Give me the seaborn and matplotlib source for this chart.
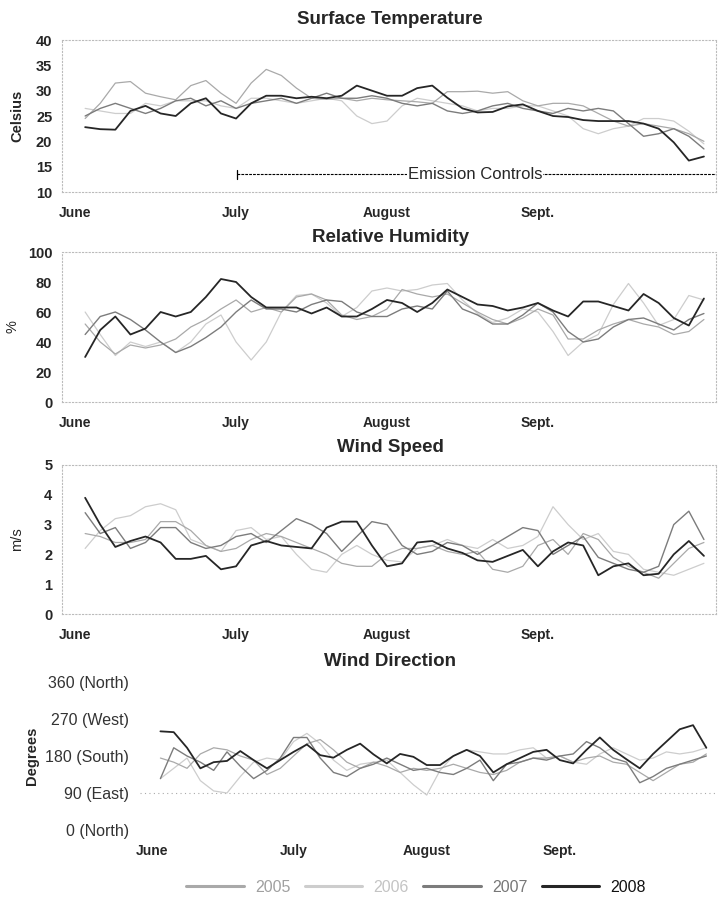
import numpy as np
import pandas as pd
import matplotlib
matplotlib.use("Agg")
import matplotlib.pyplot as plt
import seaborn as sns
from matplotlib.lines import Line2D

# ---------------- data ----------------
days = list(range(2, 126, 3))  # days after June 1
years = ["2005", "2006", "2007", "2008"]
month_labels = ["June", "July", "August", "Sept."]
month_pos = [0, 32, 62, 92]

temp_2005 = [24.5, 27.5, 31.5, 31.8, 29.5, 28.8, 28.2, 31.0, 32.0, 29.5, 27.5, 31.5, 34.2, 33.0, 30.5, 28.5, 28.3, 28.5, 28.0, 28.5, 28.2,
             28.0, 27.8, 27.5, 29.8, 29.8, 29.9, 29.5, 29.8, 28.0, 27.0, 27.5, 27.5, 27.0, 25.5, 24.0, 23.0, 23.5, 23.0, 22.5, 21.5, 20.0]
temp_2006 = [26.5, 26.0, 25.5, 25.5, 27.5, 27.0, 28.0, 28.0, 28.0, 27.0, 26.5, 28.5, 28.5, 28.0, 27.5, 28.0, 28.5, 28.0, 25.0, 23.5, 24.0,
             27.0, 28.5, 28.0, 27.5, 27.0, 26.0, 26.5, 26.5, 27.0, 27.0, 26.0, 25.0, 22.5, 21.5, 22.5, 23.0, 24.5, 24.5, 24.0, 22.0, 19.5]
temp_2007 = [25.0, 26.5, 27.5, 26.5, 25.5, 26.5, 28.0, 28.5, 27.0, 28.0, 26.5, 27.5, 28.0, 28.5, 27.5, 28.5, 29.5, 28.5, 28.5, 29.0, 28.5,
             27.5, 27.0, 27.5, 26.0, 25.5, 26.0, 27.0, 27.5, 26.5, 26.0, 25.5, 26.5, 26.0, 26.5, 26.0, 23.5, 21.0, 21.5, 22.5, 21.0, 18.5]
temp_2008 = [22.8, 22.4, 22.3, 26.0, 27.0, 25.5, 25.0, 27.5, 28.5, 25.5, 24.5, 27.5, 29.0, 29.0, 28.5, 28.8, 28.5, 29.0, 31.0, 30.0, 29.0,
             29.0, 30.5, 31.0, 28.6, 26.5, 25.7, 25.8, 26.9, 27.3, 26.0, 25.0, 24.8, 24.2, 24.0, 24.0, 24.0, 23.5, 22.5, 19.8, 16.2, 17.0]

rh_2005 = [52, 40, 32, 38, 36, 38, 42, 50, 55, 62, 68, 60, 63, 60, 70, 72, 68, 58, 55, 57, 62,
           75, 72, 70, 72, 66, 60, 55, 52, 56, 62, 58, 42, 42, 48, 52, 55, 52, 50, 45, 47, 55]
rh_2006 = [60, 45, 31, 40, 37, 40, 33, 40, 52, 58, 40, 28, 40, 60, 71, 72, 66, 57, 63, 74, 76,
           74, 75, 78, 79, 68, 59, 53, 56, 62, 60, 47, 31, 40, 45, 65, 79, 66, 51, 55, 71, 68]
rh_2007 = [45, 57, 60, 55, 48, 40, 33, 37, 43, 50, 60, 68, 62, 62, 60, 65, 68, 67, 60, 57, 57,
           62, 64, 62, 74, 62, 58, 52, 52, 58, 66, 60, 47, 40, 42, 50, 55, 56, 52, 48, 55, 59]
rh_2008 = [30, 48, 57, 45, 49, 60, 57, 60, 70, 82, 80, 70, 63, 63, 63, 59, 63, 57, 57, 62, 68,
           66, 60, 66, 75, 70, 65, 64, 61, 63, 66, 61, 57, 67, 67, 64, 61, 72, 66, 56, 51, 69]

ws_2005 = [2.7, 2.6, 2.4, 2.4, 2.5, 3.1, 3.1, 2.8, 2.3, 2.1, 2.2, 2.5, 2.7, 2.6, 2.4, 2.2, 2.0, 1.7, 1.6, 1.6, 2.0,
           2.2, 2.2, 2.3, 2.1, 2.0, 2.1, 1.5, 1.4, 1.6, 2.3, 2.5, 2.0, 2.7, 2.5, 1.9, 1.6, 1.4, 1.2, 1.7, 2.2, 2.4]
ws_2006 = [2.2, 2.8, 3.2, 3.3, 3.6, 3.7, 3.5, 2.5, 2.3, 2.1, 2.8, 2.9, 2.5, 2.6, 2.0, 1.5, 1.4, 2.0, 2.3, 2.0, 1.8,
           1.75, 2.2, 2.3, 2.5, 2.3, 2.2, 2.5, 2.2, 2.3, 2.6, 3.6, 3.0, 2.5, 2.7, 2.1, 2.0, 1.5, 1.4, 1.3, 1.5, 1.7]
ws_2007 = [3.4, 2.7, 2.9, 2.2, 2.4, 2.9, 2.9, 2.4, 2.2, 2.3, 2.6, 2.7, 2.4, 2.8, 3.2, 3.0, 2.7, 2.1, 2.6, 3.1, 3.0,
           2.3, 2.0, 2.1, 2.4, 2.3, 2.0, 2.3, 2.6, 2.9, 2.8, 2.0, 2.3, 2.6, 1.9, 1.7, 1.5, 1.4, 1.6, 3.0, 3.45, 2.5]
ws_2008 = [3.9, 3.0, 2.25, 2.45, 2.6, 2.4, 1.85, 1.85, 1.95, 1.5, 1.6, 2.3, 2.45, 2.3, 2.25, 2.2, 2.9, 3.1, 3.1, 2.3, 1.6,
           1.7, 2.4, 2.45, 2.2, 2.05, 1.8, 1.75, 1.95, 2.15, 1.6, 2.1, 2.4, 2.3, 1.3, 1.6, 1.7, 1.3, 1.35, 2.0, 2.45, 1.95]

wd_2005 = [175, 165, 150, 185, 200, 195, 180, 170, 135, 150, 180, 210, 220, 195, 165, 150, 165, 155, 140, 150, 145,
           150, 160, 150, 140, 135, 145, 165, 175, 175, 180, 165, 175, 180, 165, 160, 140, 120, 140, 160, 165, 185]
wd_2006 = [125, 150, 175, 120, 95, 90, 130, 165, 175, 170, 215, 235, 210, 170, 145, 160, 165, 170, 140, 110, 85,
           145, 180, 195, 190, 185, 185, 195, 200, 175, 180, 165, 160, 185, 200, 185, 170, 175, 190, 185, 190, 200]
wd_2007 = [125, 200, 180, 165, 145, 190, 155, 125, 145, 175, 225, 225, 175, 140, 130, 150, 160, 175, 160, 145, 150,
           140, 135, 150, 170, 120, 160, 165, 175, 170, 180, 185, 215, 200, 175, 165, 115, 130, 150, 160, 170, 180]
wd_2008 = [240, 238, 200, 150, 165, 168, 192, 170, 150, 170, 190, 208, 182, 176, 195, 210, 184, 162, 185, 178, 158,
           158, 180, 195, 180, 140, 160, 175, 190, 195, 170, 162, 195, 225, 195, 172, 150, 185, 215, 245, 255, 200]

wd_ticks = [0, 90, 180, 270, 360]
wd_ticklabels = ["0 (North)", "90 (East)", "180 (South)", "270 (West)", "360 (North)"]

# ---------------- style ----------------
sns.set_style("white")
plt.rcParams["font.family"] = ["Liberation Sans", "DejaVu Sans"]

colors = {"2005": "#a9a9a9", "2006": "#cdcdcd", "2007": "#7c7c7c", "2008": "#262626"}
widths = {"2005": 0.9, "2006": 0.9, "2007": 1.0, "2008": 1.3}
order = ["2006", "2005", "2007", "2008"]


def long_df(series):
    frames = []
    for y, vals in zip(years, series):
        frames.append(pd.DataFrame({"day": days, "value": vals, "year": y}))
    return pd.concat(frames, ignore_index=True)


fig = plt.figure(figsize=(7.18, 8.98), dpi=100)
W, H = 718.0, 898.0


def add_ax(left, right, top, bottom):
    return fig.add_axes([left / W, 1 - bottom / H, (right - left) / W, (bottom - top) / H])


panels = [
    dict(series=[temp_2005, temp_2006, temp_2007, temp_2008], box=(62, 716, 40, 192), ylim=(10, 40),
         yticks=[10, 15, 20, 25, 30, 35, 40], ylabel="Celsius", title="Surface Temperature", ty=20, ylx=-0.058,
         ylw="bold"),
    dict(series=[rh_2005, rh_2006, rh_2007, rh_2008], box=(62, 716, 252, 402), ylim=(0, 100),
         yticks=[0, 20, 40, 60, 80, 100], ylabel="%", title="Relative Humidity", ty=237, ylx=-0.065, ylw="normal"),
    dict(series=[ws_2005, ws_2006, ws_2007, ws_2008], box=(62, 716, 465, 614), ylim=(0, 5),
         yticks=[0, 1, 2, 3, 4, 5], ylabel="m/s", title="Wind Speed", ty=448, ylx=-0.058, ylw="normal"),
    dict(series=[wd_2005, wd_2006, wd_2007, wd_2008], box=(140, 717, 682, 830), ylim=(0, 360),
         yticks=wd_ticks, ylabel="Degrees", title="Wind Direction", ty=662, ylx=-0.175, ylw="bold"),
]

axes = []
for i, p in enumerate(panels):
    ax = add_ax(*p["box"])
    axes.append(ax)
    df = long_df(p["series"])
    for y in order:
        sns.lineplot(data=df[df["year"] == y], x="day", y="value", color=colors[y],
                     linewidth=widths[y], ax=ax, legend=False)
    ax.set_xlim(-2.6, 127.4)
    ax.set_ylim(*p["ylim"])
    ax.set_xticks(month_pos)
    ax.set_xticklabels(month_labels, fontsize=10, fontweight="bold")
    ax.set_yticks(p["yticks"])
    ax.set_xlabel("")
    ax.set_ylabel(p["ylabel"], fontsize=10.5, fontweight=p["ylw"])
    ax.yaxis.set_label_coords(p["ylx"], 0.5)
    ax.tick_params(axis="x", length=0, pad=10)
    ax.tick_params(axis="y", length=3, color="#bbbbbb", pad=4)
    if i < 3:
        ax.set_yticklabels([str(t) for t in p["yticks"]], fontsize=10.5, fontweight="bold")
        for s in ax.spines.values():
            s.set_linestyle((0, (1, 2)))
            s.set_color("#bbbbbb")
            s.set_linewidth(0.8)
    else:
        ax.set_yticklabels(wd_ticklabels, fontsize=11.5, color="#333333")
        for s in ax.spines.values():
            s.set_visible(False)
        ax.axhline(90, color="#aaaaaa", linestyle=(0, (1, 3)), linewidth=0.8, zorder=0)
        ax.tick_params(axis="y", length=4, color="#cccccc")
    fig.text(390 / W, 1 - p["ty"] / H, p["title"], ha="center", va="center", fontsize=13.5, fontweight="bold")

# Emission controls annotation
ax0 = axes[0]
ax0.plot([32.2, 127.4], [13.5, 13.5], color="black", linestyle=(0, (2.5, 1)), linewidth=0.8, clip_on=False)
ax0.plot([32.2, 32.2], [12.6, 14.4], color="black", linewidth=0.9)
ax0.text(79.5, 13.5, "Emission Controls", ha="center", va="center", fontsize=12,
         bbox=dict(facecolor="white", edgecolor="none", pad=0.3))

# Legend
handles = [Line2D([0], [0], color=colors[y], linewidth=2.2) for y in years]
leg = fig.legend(handles, years, loc="center", bbox_to_anchor=(416 / W, 1 - 887 / H), ncol=4, frameon=False,
                 handlelength=3.6, columnspacing=0.9, handletextpad=0.7, fontsize=11.5)
for t, y in zip(leg.get_texts(), years):
    t.set_color({"2005": "#a0a0a0", "2006": "#c4c4c4", "2007": "#777777", "2008": "#111111"}[y])

fig.savefig("out.png", dpi=100)
